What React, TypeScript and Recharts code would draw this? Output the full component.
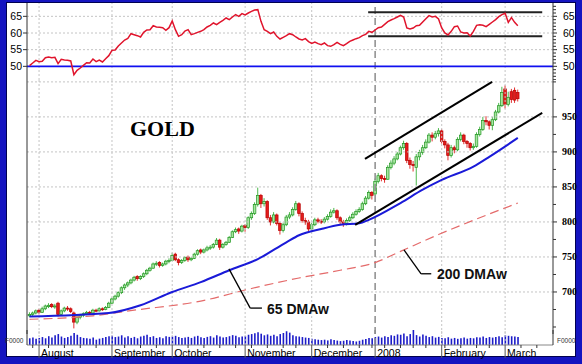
import React from 'react';
import { ComposedChart, Line, Bar, XAxis, YAxis, ReferenceLine } from 'recharts';

// trading days: index 0 = Jul 27 2007 ... index 154 = Mar 7 2008
const opens = [
  666, 668, 670, 674, 671, 676, 679, 682, 679, 684,
  668, 673, 677, 676, 670, 657, 664, 667, 669, 671,
  670, 674, 673, 676, 675, 678, 684, 690, 694, 699,
  706, 710, 713, 717, 722, 719, 722, 726, 731, 734,
  740, 742, 738, 740, 744, 745, 754, 746, 742, 745,
  750, 746, 748, 754, 760, 757, 760, 763, 764, 768,
  774, 764, 768, 771, 778, 786, 790, 787, 795, 792,
  806, 812, 825, 838, 826, 829, 806, 800, 810, 798,
  788, 796, 807, 810, 818, 826, 812, 802, 800, 790,
  796, 803, 801, 800, 804, 808, 814, 816, 806, 800,
  798, 802, 806, 811, 815, 818, 826, 834, 842, 840,
  858, 866, 862, 861, 878, 884, 890, 897, 906, 912,
  888, 882, 878, 893, 899, 906, 914, 924, 921, 926,
  930, 915, 910, 895, 906, 903, 918, 924, 915, 912,
  906, 908, 925, 932, 945, 943, 938, 946, 957, 966,
  990, 968, 986, 988, 985,
];
const highs = [
  671, 672, 675, 676, 679, 682, 684, 684, 683, 686,
  675, 679, 680, 678, 672, 668, 669, 671, 673, 673,
  676, 676, 678, 678, 680, 686, 692, 696, 701, 708,
  712, 715, 719, 723, 724, 724, 728, 733, 736, 742,
  744, 744, 742, 746, 748, 756, 756, 748, 747, 751,
  752, 750, 756, 761, 762, 762, 766, 767, 770, 777,
  776, 770, 773, 780, 788, 792, 792, 796, 797, 808,
  815, 828, 849, 840, 834, 831, 810, 814, 812, 800,
  799, 810, 814, 821, 830, 828, 815, 806, 803, 799,
  806, 806, 804, 807, 811, 818, 820, 818, 808, 803,
  805, 809, 814, 818, 821, 829, 837, 845, 844, 862,
  870, 868, 866, 881, 888, 894, 900, 909, 916, 914,
  892, 887, 897, 903, 910, 918, 927, 928, 930, 934,
  933, 918, 913, 910, 909, 921, 928, 926, 917, 914,
  912, 928, 936, 950, 951, 945, 950, 960, 970, 993,
  995, 986, 990, 992, 989,
];
const lows = [
  664, 665, 668, 668, 670, 674, 677, 677, 676, 665,
  666, 671, 673, 670, 648, 654, 661, 664, 667, 668,
  669, 671, 672, 673, 674, 677, 683, 688, 692, 697,
  703, 707, 711, 715, 716, 717, 720, 724, 729, 733,
  737, 735, 736, 738, 741, 744, 744, 738, 740, 743,
  743, 744, 747, 752, 754, 755, 758, 760, 762, 767,
  760, 762, 766, 770, 777, 784, 783, 785, 786, 790,
  803, 810, 822, 820, 822, 803, 795, 798, 795, 782,
  785, 794, 804, 808, 816, 808, 799, 796, 787, 788,
  794, 798, 797, 798, 802, 806, 812, 803, 796, 793,
  795, 800, 804, 809, 813, 816, 824, 832, 832, 838,
  855, 858, 856, 860, 875, 881, 888, 895, 903, 884,
  876, 872, 852, 888, 896, 904, 912, 915, 918, 922,
  912, 905, 888, 892, 898, 901, 915, 911, 906, 902,
  903, 906, 922, 930, 938, 932, 931, 944, 955, 964,
  962, 965, 970, 970, 972,
];
const closes = [
  668, 670, 673, 671, 676, 680, 681, 679, 680, 668,
  673, 677, 676, 672, 657, 664, 667, 669, 671, 670,
  674, 673, 676, 675, 678, 684, 690, 694, 699, 706,
  710, 713, 717, 721, 719, 722, 726, 731, 734, 740,
  741, 738, 740, 744, 745, 752, 746, 742, 745, 749,
  746, 748, 754, 759, 757, 760, 763, 764, 768, 774,
  764, 768, 771, 778, 786, 789, 787, 794, 792, 806,
  812, 825, 838, 826, 829, 806, 800, 810, 798, 788,
  796, 807, 810, 818, 826, 812, 802, 800, 790, 796,
  803, 801, 800, 804, 808, 814, 816, 806, 800, 798,
  802, 806, 811, 815, 818, 826, 834, 842, 838, 858,
  866, 862, 861, 878, 884, 890, 897, 906, 912, 888,
  882, 881, 893, 899, 906, 914, 924, 921, 926, 930,
  915, 910, 895, 906, 903, 918, 924, 915, 912, 906,
  908, 925, 932, 945, 943, 938, 946, 957, 966, 985,
  968, 978, 975, 974, 976,
];
const rsi = [
  50.2, 51, 51.8, 51.4, 51.5, 52.6, 52.8, 52.6, 52.7, 50.8,
  52.1, 51.9, 51.8, 51.6, 47.5, 48.8, 49.5, 50.3, 51.1, 51,
  52.2, 51.4, 51.9, 51.3, 52.3, 53.2, 54.8, 54.9, 56.1, 57,
  57.9, 58.4, 59.8, 59.5, 59.2, 58.8, 60.2, 60.9, 61, 62.2,
  61.8, 61.7, 61.6, 60.8, 61.6, 63.6, 61, 59, 59.5, 60.6,
  61, 59.5, 59.8, 60.2, 60.5, 61, 61.8, 62.3, 63, 62.5,
  63.2, 63.8, 64.5, 64, 64.8, 65.5, 65, 65.8, 65.4, 66,
  66.5, 66.9, 67, 63.5, 61, 60.5, 59.8, 60.3, 59, 58.2,
  58.7, 59.2, 59.8, 59.5, 58.8, 58.2, 57.9, 58.3, 57.4, 56.9,
  57.3, 56.8, 56.5, 57, 56.2, 56, 56.5, 57.2, 56.6, 56.2,
  56.8, 57.5, 57.9, 58.3, 58.6, 59.2, 59.6, 60.5, 60.2, 60.9,
  61.6, 61.8, 62.6, 63.4, 63.9, 64.3, 64.8, 65.3, 64.8, 61.5,
  61.2, 61.5, 62.2, 62.3, 63.3, 64.3, 65.2, 64.8, 65, 64.2,
  61.5, 60, 59.4, 60.5, 61.9, 62.1, 60.3, 60, 60.1, 59.1,
  60.5, 62.3, 62.5, 62.3, 61.9, 62.6, 63.3, 64, 64.9, 65.5,
  65.9, 63.2, 64.6, 63.2, 62.2,
];
const volumes = [
  38, 42, 35, 40, 45, 38, 50, 42, 55, 62,
  48, 40, 45, 52, 68, 58, 45, 40, 38, 35,
  42, 30, 36, 40, 45, 50, 52, 45, 48, 55,
  42, 50, 40, 46, 38, 48, 52, 58, 45, 50,
  40, 44, 38, 50, 46, 48, 52, 45, 40, 42,
  46, 40, 48, 52, 44, 40, 46, 50, 42, 55,
  48, 42, 45, 50, 56, 52, 44, 48, 50, 58,
  62, 66, 72, 64, 55, 60, 52, 58, 50, 62,
  68, 78, 70, 55, 50, 48, 45, 42, 40, 35,
  32, 30, 28, 30, 26, 32, 28, 25, 22, 24,
  28, 25, 22, 20, 24, 30, 34, 40, 38, 45,
  48, 42, 50, 46, 55, 52, 60, 58, 65, 50,
  62, 85, 56, 48, 60, 52, 45, 50, 42, 46,
  40, 38, 44, 36, 40, 35, 38, 42, 36, 40,
  38, 44, 42, 48, 40, 45, 42, 46, 50, 44,
  55, 52, 50, 48, 45,
];

// moving averages, read at a few days and joined
const ma65Days = [0, 25, 35, 45, 54, 63, 72, 81, 85, 92, 98, 104, 107, 117, 124, 130, 140, 145, 154];
const ma65Values = [665, 670, 681, 700, 714, 731, 747, 771, 781, 790, 796, 798, 803, 827, 846, 860, 879, 893, 920];
const ma200Days = [0, 20, 33, 54, 70, 85, 98, 109, 117, 129, 142, 154];
const ma200Values = [661, 666, 674, 687, 705, 720, 731, 742, 758, 782, 806, 827];

const monthLabels = ['August', 'September', 'October', 'November', 'December', '2008', 'February', 'March'];
const monthStarts = [3, 26, 45, 68, 89, 109, 130, 150];
const weekStarts = [1, 6, 11, 16, 21, 30, 35, 40, 50, 55, 60, 65, 70, 75, 80, 84, 94, 99, 104, 108, 112, 117, 121, 125, 131, 136, 141, 145, 155, 160];

const rsiLabels = [50, 55, 60, 65];
const rsiGrid = [55, 60, 65];
const priceLabels = [700, 750, 800, 850, 900, 950];
const priceGrid = [700, 750, 800, 850, 900, 950, 1000];

// drawn trend lines (day index, value)
const upperChannel = [{ x: 105.8, y: 890 }, { x: 145.9, y: 1000 }];
const lowerChannel = [{ x: 102.7, y: 795.7 }, { x: 161.7, y: 955.7 }];
const rsiChannel = { from: 106.8, to: 161.7, top: 66.2, bottom: 59.0 };
const ma65Pointer = [{ x: 62.9, y: 733 }, { x: 69.6, y: 677 }, { x: 73.3, y: 677 }];
const ma200Pointer = [{ x: 118.1, y: 760 }, { x: 123.5, y: 726 }, { x: 126.7, y: 726 }];

const rows = closes.map((c, i) => {
  const a = ma65Days.indexOf(i);
  const b = ma200Days.indexOf(i);
  return {
    i,
    o: opens[i],
    h: highs[i],
    l: lows[i],
    c,
    range: [lows[i], highs[i]],
    rsi: rsi[i],
    vol: volumes[i],
    ma65: a >= 0 ? ma65Values[a] : null,
    ma200: b >= 0 ? ma200Values[b] : null,
  };
});

const X_DOMAIN: [number, number] = [-0.8, 165.1];
const RSI_DOMAIN: [number, number] = [45.9, 69];
const PRICE_DOMAIN: [number, number] = [640, 1002.7];
const LEFT_X = 27;
const RIGHT_X = 553;
const SANS = "Arial, 'Liberation Sans', sans-serif";
const SERIF = "'Times New Roman', 'Liberation Serif', serif";

const rsiMinor: number[] = [];
for (let v = 46; v <= 68; v++) rsiMinor.push(v);
const priceMinor: number[] = [];
for (let v = 650; v <= 1000; v += 25) priceMinor.push(v);

const Candle = (props: any) => {
  const { x, y, width, height, payload } = props;
  if (!payload || height == null) return null;
  const { o, h, l, c } = payload;
  const span = h - l || 1;
  const toY = (v: number) => y + ((h - v) / span) * height;
  const cx = x + width / 2;
  const up = c >= o;
  const top = toY(Math.max(o, c));
  const bottom = toY(Math.min(o, c));
  return (
    <g>
      <line x1={cx} x2={cx} y1={y} y2={y + height} stroke={up ? '#35b035' : '#e01818'} strokeWidth={0.9} />
      <rect
        x={cx - 1.3}
        y={top}
        width={2.6}
        height={Math.max(bottom - top, 1)}
        fill={up ? '#a6e6a0' : '#e41b1b'}
        stroke={up ? '#1f951f' : '#b80000'}
        strokeWidth={0.7}
      />
    </g>
  );
};

const RsiLeftTick = (p: any) => (
  <g>
    <line x1={LEFT_X - 4} x2={LEFT_X} y1={p.y} y2={p.y} stroke="#333" />
    <text x={LEFT_X - 5} y={p.y + 3.5} textAnchor="end" fontSize={10.5} fontFamily={SANS} fill="#000">
      {p.payload.value}
    </text>
  </g>
);

const RsiRightTick = (p: any) => {
  const v = p.payload.value;
  const major = rsiLabels.includes(v);
  return (
    <g>
      <line x1={RIGHT_X} x2={RIGHT_X + (major ? 4 : 3)} y1={p.y} y2={p.y} stroke="#333" />
      {major && (
        <text x={RIGHT_X + 10} y={p.y + 3.5} fontSize={10.5} fontFamily={SANS} fill="#000">
          {v}
        </text>
      )}
    </g>
  );
};

const PriceRightTick = (p: any) => {
  const v = p.payload.value;
  const major = priceLabels.includes(v);
  return (
    <g>
      <line x1={RIGHT_X} x2={RIGHT_X + (major ? 4 : 3)} y1={p.y} y2={p.y} stroke="#333" />
      {major && (
        <text x={RIGHT_X + 9} y={p.y + 3.5} fontSize={10} fontWeight="bold" fontFamily={SERIF} fill="#000">
          {v}
        </text>
      )}
    </g>
  );
};

const DateTick = (p: any) => {
  const v = p.payload.value;
  const m = monthStarts.indexOf(v);
  if (m < 0) {
    return <line x1={p.x} x2={p.x} y1={15} y2={18} stroke="#333" />;
  }
  return (
    <g>
      <line x1={p.x} x2={p.x} y1={15} y2={28} stroke="#555" />
      <text x={p.x + 2} y={27} fontSize={10.5} fontFamily={SANS} fill="#000">
        {monthLabels[m]}
      </text>
    </g>
  );
};

const monthLines = (yId: string) =>
  monthStarts.map((m) =>
    m === 109 ? (
      <ReferenceLine key={'m' + m} yAxisId={yId} x={m} stroke="#8c8c8c" strokeWidth={1.5} strokeDasharray="7 4" />
    ) : (
      <ReferenceLine key={'m' + m} yAxisId={yId} x={m} stroke="#c4c4c4" strokeDasharray="2 2" />
    )
  );

const allDateTicks = [...weekStarts, ...monthStarts].sort((a, b) => a - b);

const App = () => {
  return (
    <div style={{ position: 'absolute', left: 0, top: 0, width: 582, height: 364, background: '#1414c0' }}>
      <div
        style={{
          position: 'absolute',
          left: 6,
          top: 2,
          width: 570,
          height: 355,
          background: '#ffffff',
          border: '1px solid #000050',
          boxSizing: 'border-box',
        }}
      />

      {/* RSI panel */}
      <div style={{ position: 'absolute', left: 0, top: 0 }}>
        <ComposedChart width={582} height={80} data={rows} margin={{ top: 3, right: 0, bottom: 0, left: 0 }}>
          <XAxis type="number" dataKey="i" domain={X_DOMAIN} allowDataOverflow hide />
          <YAxis
            yAxisId="r"
            orientation="left"
            width={LEFT_X}
            domain={RSI_DOMAIN}
            allowDataOverflow
            ticks={rsiLabels}
            interval={0}
            tickLine={false}
            tick={(p: any) => <RsiLeftTick {...p} />}
            axisLine={{ stroke: '#333' }}
          />
          <YAxis
            yAxisId="r2"
            orientation="right"
            width={582 - RIGHT_X}
            domain={RSI_DOMAIN}
            allowDataOverflow
            ticks={rsiMinor}
            interval={0}
            tickLine={false}
            tick={(p: any) => <RsiRightTick {...p} />}
            axisLine={{ stroke: '#333' }}
          />
          {rsiGrid.map((v) => (
            <ReferenceLine key={'g' + v} yAxisId="r" y={v} stroke="#c4c4c4" strokeDasharray="2 2" />
          ))}
          {monthLines('r')}
          <ReferenceLine yAxisId="r" y={50} stroke="#1010f0" strokeWidth={1.6} />
          <ReferenceLine
            yAxisId="r"
            segment={[{ x: rsiChannel.from, y: rsiChannel.top }, { x: rsiChannel.to, y: rsiChannel.top }]}
            stroke="#222"
            strokeWidth={2}
            ifOverflow="visible"
          />
          <ReferenceLine
            yAxisId="r"
            segment={[{ x: rsiChannel.from, y: rsiChannel.bottom }, { x: rsiChannel.to, y: rsiChannel.bottom }]}
            stroke="#222"
            strokeWidth={2}
            ifOverflow="visible"
          />
          <Line
            yAxisId="r"
            dataKey="rsi"
            type="linear"
            stroke="#e0142c"
            strokeWidth={1.5}
            dot={false}
            isAnimationActive={false}
          />
        </ComposedChart>
      </div>

      {/* price panel */}
      <div style={{ position: 'absolute', left: 0, top: 80 }}>
        <ComposedChart width={582} height={254} data={rows} margin={{ top: 0, right: 0, bottom: 0, left: 0 }}>
          <XAxis type="number" dataKey="i" domain={X_DOMAIN} allowDataOverflow hide />
          <YAxis yAxisId="p" orientation="left" width={LEFT_X} domain={PRICE_DOMAIN} allowDataOverflow tick={false} tickLine={false} axisLine={{ stroke: '#333' }} />
          <YAxis
            yAxisId="p2"
            orientation="right"
            width={582 - RIGHT_X}
            domain={PRICE_DOMAIN}
            allowDataOverflow
            ticks={priceMinor}
            interval={0}
            tickLine={false}
            tick={(p: any) => <PriceRightTick {...p} />}
            axisLine={{ stroke: '#333' }}
          />
          {priceGrid.map((v) => (
            <ReferenceLine key={'g' + v} yAxisId="p" y={v} stroke="#c4c4c4" strokeDasharray="2 2" />
          ))}
          {monthLines('p')}
          <Line yAxisId="p" dataKey="ma200" type="monotone" connectNulls stroke="#e46a6a" strokeWidth={1.2} strokeDasharray="9 5" dot={false} isAnimationActive={false} />
          <Line yAxisId="p" dataKey="ma65" type="monotone" connectNulls stroke="#1a1ad8" strokeWidth={2} dot={false} isAnimationActive={false} />
          <Bar yAxisId="p" dataKey="range" barSize={3} shape={(p: any) => <Candle {...p} />} isAnimationActive={false} />
          <ReferenceLine yAxisId="p" segment={upperChannel} stroke="#000" strokeWidth={2} ifOverflow="visible" />
          <ReferenceLine yAxisId="p" segment={lowerChannel} stroke="#000" strokeWidth={2} ifOverflow="visible" />
          <ReferenceLine yAxisId="p" segment={[ma65Pointer[0], ma65Pointer[1]]} stroke="#000" strokeWidth={1.3} ifOverflow="visible" />
          <ReferenceLine yAxisId="p" segment={[ma65Pointer[1], ma65Pointer[2]]} stroke="#000" strokeWidth={1.3} ifOverflow="visible" />
          <ReferenceLine yAxisId="p" segment={[ma200Pointer[0], ma200Pointer[1]]} stroke="#000" strokeWidth={1.3} ifOverflow="visible" />
          <ReferenceLine yAxisId="p" segment={[ma200Pointer[1], ma200Pointer[2]]} stroke="#000" strokeWidth={1.3} ifOverflow="visible" />
        </ComposedChart>
      </div>

      {/* volume panel with date axis */}
      <div style={{ position: 'absolute', left: 0, top: 330 }}>
        <ComposedChart width={582} height={34} data={rows} margin={{ top: 0, right: 0, bottom: 0, left: 0 }}>
          <XAxis
            type="number"
            dataKey="i"
            domain={X_DOMAIN}
            allowDataOverflow
            height={19}
            ticks={allDateTicks}
            interval={0}
            tickLine={false}
            tick={(p: any) => <DateTick {...p} />}
            axisLine={{ stroke: '#888' }}
          />
          <YAxis yAxisId="v" orientation="left" width={LEFT_X} domain={[0, 85]} allowDataOverflow tick={false} tickLine={false} axisLine={{ stroke: '#333' }} />
          <YAxis yAxisId="v2" orientation="right" width={582 - RIGHT_X} domain={[0, 85]} tick={false} tickLine={false} axisLine={{ stroke: '#333' }} />
          {monthLines('v')}
          <Bar yAxisId="v" dataKey="vol" fill="#1c1cc8" barSize={1.6} isAnimationActive={false} />
        </ComposedChart>
      </div>

      <svg width={582} height={364} style={{ position: 'absolute', left: 0, top: 0, pointerEvents: 'none' }}>
        <text x={130} y={136} fontSize={22} fontWeight="bold" fontFamily={SERIF} fill="#000">
          GOLD
        </text>
        <text x={267} y={314} fontSize={14} fontWeight="bold" fontFamily={SANS} fill="#111">
          65 DMAw
        </text>
        <text x={437} y={279} fontSize={14} fontWeight="bold" fontFamily={SANS} fill="#111">
          200 DMAw
        </text>
        <text x={5} y={343} fontSize={6.5} fontFamily={SANS} fill="#333">
          F0000
        </text>
        <text x={557} y={343} fontSize={6.5} fontFamily={SANS} fill="#333">
          F0000
        </text>
      </svg>
    </div>
  );
};

export default App;
